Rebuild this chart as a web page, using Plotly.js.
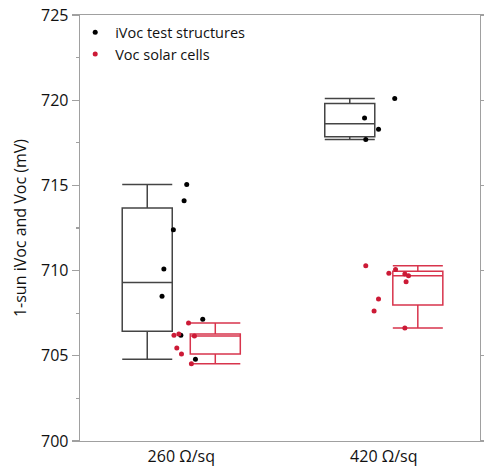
<!DOCTYPE html>
<html>
<head>
<meta charset="utf-8">
<script src="https://cdn.plot.ly/plotly-3.0.1.min.js"></script>
<style>html,body{margin:0;padding:0;background:#fff;}#chart{width:484px;height:468px;}</style>
</head>
<body>
<div id="chart"></div>
<script>
// ---- data ----
const categories = ['260 Ω/sq', '420 Ω/sq'];
const seriesNames = ['iVoc test structures', 'Voc solar cells'];

// iVoc test structures (mV)
const ivoc260 = [715.05, 714.1, 712.4, 710.1, 708.5, 707.15, 706.2, 704.8];
const ivoc420 = [720.1, 718.95, 718.3, 717.7];
// Voc solar cells (mV)
const voc260 = [706.92, 706.2, 706.28, 706.16, 705.46, 705.1, 704.54];
const voc420 = [710.29, 709.84, 710.07, 709.8, 709.7, 709.35, 708.33, 707.63, 706.63];

// horizontal scatter of the dots around each category (category units)
const ivoc260Jitter = [0.027, 0.014, -0.039, -0.086, -0.095, 0.106, -0.002, 0.070];
const ivoc420Jitter = [0.054, -0.095, -0.026, -0.089];
const voc260Jitter = [0.036, -0.036, -0.012, 0.065, -0.022, 0.001, 0.050];
const voc420Jitter = [-0.089, 0.025, 0.058, 0.104, 0.122, 0.110, -0.026, -0.048, 0.104];

const yTicks = [700, 705, 710, 715, 720, 725];

// ---- helpers ----
function quantile(arr, p) { // (n+1)p method
  const s = arr.slice().sort((a, b) => a - b);
  const n = s.length;
  const pos = (n + 1) * p;
  if (pos <= 1) return s[0];
  if (pos >= n) return s[n - 1];
  const lo = Math.floor(pos);
  const f = pos - lo;
  return s[lo - 1] + f * (s[lo] - s[lo - 1]);
}
function stats(groups) {
  return {
    q1: groups.map(g => quantile(g, 0.25)),
    median: groups.map(g => quantile(g, 0.5)),
    q3: groups.map(g => quantile(g, 0.75)),
    lowerfence: groups.map(g => Math.min(...g)),
    upperfence: groups.map(g => Math.max(...g))
  };
}

const idx = categories.map((c, i) => i);
const black = '#000000';
const red = '#cc1a36';

const sIvoc = stats([ivoc260, ivoc420]);
const sVoc = stats([voc260, voc420]);

const boxIvoc = Object.assign({
  type: 'box', x: idx, name: seriesNames[0], showlegend: false, boxpoints: false,
  line: {color: '#444444', width: 1.5}, fillcolor: 'rgba(0,0,0,0)', whiskerwidth: 1,
  hoverinfo: 'skip'
}, sIvoc);
const boxVoc = Object.assign({
  type: 'box', x: idx, name: seriesNames[1], showlegend: false, boxpoints: false,
  line: {color: '#d8344c', width: 1.5}, fillcolor: 'rgba(0,0,0,0)', whiskerwidth: 1,
  hoverinfo: 'skip'
}, sVoc);

function pts(groups, jitters, name, color) {
  const x = [], y = [];
  groups.forEach((g, i) => g.forEach((v, j) => { x.push(i + jitters[i][j]); y.push(v); }));
  return {type: 'scatter', mode: 'markers', x, y, name, marker: {color, size: 5}, xaxis: 'x', yaxis: 'y'};
}
const ptsIvoc = pts([ivoc260, ivoc420], [ivoc260Jitter, ivoc420Jitter], seriesNames[0], black);
const ptsVoc = pts([voc260, voc420], [voc260Jitter, voc420Jitter], seriesNames[1], red);

// invisible trace to carry the right-hand axis
const rightAxisCarrier = {type: 'scatter', mode: 'markers', x: [idx[0]], y: [yTicks[0]], yaxis: 'y2',
  marker: {opacity: 0}, showlegend: false, hoverinfo: 'skip'};

const axisColor = '#a0a0a0';
const font = {family: 'Open Sans, sans-serif', size: 16, color: '#111'};

const layout = {
  width: 484, height: 468,
  margin: {l: 80, r: 4, t: 15, b: 27, pad: 0},
  paper_bgcolor: '#fff', plot_bgcolor: '#fff',
  font: font,
  boxmode: 'group', boxgap: 0.328, boxgroupgap: 0.265,
  showlegend: true,
  legend: {x: -0.012, y: 0.997, xanchor: 'left', yanchor: 'top', bgcolor: 'rgba(0,0,0,0)',
    font: {family: 'Open Sans, sans-serif', size: 14.5, color: '#111'}, tracegroupgap: 0},
  xaxis: {
    range: [-0.5, 1.475], tickvals: idx, ticktext: categories, ticks: '',
    showline: true, linecolor: axisColor, linewidth: 1.3, mirror: true,
    showgrid: false, zeroline: false, tickfont: {size: 16}
  },
  yaxis: {
    range: [700, 725], tickvals: yTicks, ticks: 'outside', ticklen: 7, tickcolor: axisColor,
    tickwidth: 1.3, showline: true, linecolor: axisColor, linewidth: 1.3, mirror: false,
    showgrid: false, zeroline: false, tickfont: {size: 16},
    minor: {dtick: 2.5, tick0: 700, ticks: 'outside', ticklen: 3, tickcolor: axisColor, tickwidth: 1.3, showgrid: false},
    title: {text: '1-sun iVoc and Voc (mV)', font: {size: 16}, standoff: 10}
  },
  yaxis2: {
    overlaying: 'y', side: 'right', range: [700, 725], tickvals: yTicks, ticks: 'outside', ticklen: 4,
    tickcolor: axisColor, tickwidth: 1.3, showticklabels: false, showline: true, linecolor: axisColor,
    linewidth: 1.3, showgrid: false, zeroline: false
  }
};

Plotly.newPlot('chart', [boxIvoc, boxVoc, ptsIvoc, ptsVoc, rightAxisCarrier], layout, {displayModeBar: false, staticPlot: true});
</script>
</body>
</html>
